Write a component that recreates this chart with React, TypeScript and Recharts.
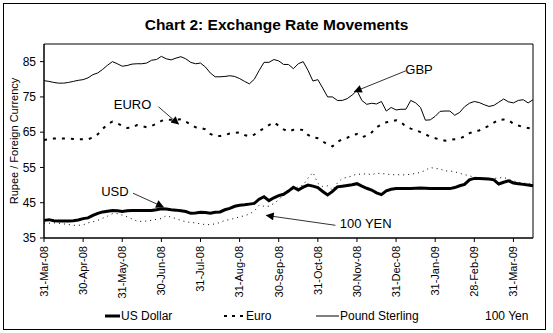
import React from 'react';
import {
  LineChart,
  Line,
  XAxis,
  YAxis,
  Legend,
  ReferenceArea,
  ReferenceLine,
  ReferenceDot,
} from 'recharts';

// month labels, one every 8 points on the x axis
const tickLabels = [
  '31-Mar-08', '30-Apr-08', '31-May-08', '30-Jun-08', '31-Jul-08', '31-Aug-08', '30-Sep-08',
  '31-Oct-08', '30-Nov-08', '31-Dec-08', '31-Jan-09', '28-Feb-09', '31-Mar-09',
];

const usd = [
  40.0, 40.2, 39.9, 39.8, 39.8, 39.8, 39.9, 40.1, 40.5, 40.7,
  41.4, 42.0, 42.4, 42.6, 42.8, 42.7, 42.5, 42.7, 42.8, 42.8,
  42.8, 42.8, 42.8, 43.0, 43.3, 43.2, 43.0, 42.9, 42.7, 42.5,
  42.0, 42.1, 42.3, 42.2, 42.0, 42.3, 42.4, 43.0, 43.4, 44.0,
  44.3, 44.4, 44.6, 44.8, 46.0, 46.7, 45.6, 46.4, 47.0, 47.4,
  48.3, 49.4, 48.6, 49.4, 50.0, 49.7, 49.3, 48.2, 47.2, 48.2,
  49.5, 49.7, 49.9, 50.1, 50.4, 49.7, 49.1, 48.6, 47.8, 47.3,
  48.4, 48.8, 49.0, 49.0, 49.0, 49.0, 49.1, 49.2, 49.1, 49.0,
  49.0, 49.0, 49.0, 49.0, 49.3, 49.8, 50.2, 51.5, 51.9, 51.9,
  51.8, 51.7, 51.5, 50.3, 50.8, 51.2, 50.6, 50.4, 50.2, 50.0,
  49.8,
];

const euro = [
  62.8, 63.0, 63.2, 63.2, 63.2, 63.2, 63.1, 63.0, 63.0, 63.0,
  63.5, 64.4, 65.9, 67.3, 68.0, 67.5, 66.8, 66.2, 66.3, 67.0,
  66.7, 66.4, 66.8, 67.4, 68.2, 68.6, 68.5, 68.5, 68.7, 68.0,
  67.2, 66.4, 66.2, 65.8, 64.5, 63.9, 63.9, 64.2, 64.6, 64.8,
  64.9, 64.2, 63.8, 64.3, 65.3, 66.1, 67.0, 67.8, 66.8, 65.8,
  65.2, 65.7, 65.8, 65.6, 64.2, 63.5, 63.3, 62.4, 61.5, 61.0,
  62.2, 63.0, 63.4, 64.2, 64.5, 63.6, 64.0, 64.9, 66.4, 67.2,
  67.8, 68.0, 68.4, 67.8, 66.6, 66.0, 65.6, 65.0, 64.4, 63.7,
  63.3, 62.9, 62.6, 62.8, 63.0, 63.2, 63.8, 64.7, 65.3, 65.5,
  66.2, 66.8, 67.7, 68.5, 68.6, 68.4, 67.4, 66.9, 66.4, 66.2,
  66.0,
];

const gbp = [
  79.6, 79.4, 79.1, 78.9, 78.9, 79.1, 79.4, 79.7, 79.9, 80.4,
  81.3, 81.8, 82.8, 84.0, 85.0, 84.4, 83.7, 83.9, 84.3, 84.4,
  84.4, 84.6, 85.4, 85.6, 86.5, 85.8, 85.5, 86.0, 86.4, 85.8,
  84.8, 84.4, 84.6, 83.5, 81.8, 80.7, 80.7, 80.8, 81.0, 80.8,
  80.2, 79.4, 78.7, 80.0, 82.5, 84.8, 84.8, 85.6, 85.2, 84.2,
  84.2, 83.0, 84.4, 85.0, 82.5, 79.5, 79.9, 77.5, 75.0, 75.0,
  74.0, 74.0, 74.5, 75.5, 76.8, 74.0, 72.9, 73.2, 73.0, 73.7,
  71.0, 72.0, 71.3, 71.5, 71.5, 74.0, 73.3, 72.0, 68.4, 68.5,
  69.5, 70.9, 71.0, 71.0, 69.8, 70.6, 72.2, 73.2, 73.7, 73.4,
  72.8, 72.3, 72.6, 73.5, 74.4, 73.6, 73.3, 74.0, 74.2, 73.3,
  74.2,
];

const yen = [
  39.2, 39.2, 39.3, 39.2, 39.0, 38.8, 38.6, 38.6, 38.7, 39.3,
  39.6, 40.0, 40.6, 41.2, 41.9, 41.9, 41.5, 41.0, 40.4, 39.8,
  39.7, 39.8, 40.0, 40.3, 40.5, 41.3, 40.9, 40.5, 40.0, 39.6,
  39.4, 39.3, 39.0, 38.8, 38.8, 39.0, 39.4, 40.0, 40.2, 40.6,
  41.0, 41.3, 41.8, 42.6, 44.3, 44.0, 44.0, 44.8, 45.8, 47.4,
  48.0, 48.9, 49.5, 50.0, 52.0, 53.6, 50.5, 49.6, 49.8, 48.6,
  50.6, 51.9, 52.2, 52.6, 53.2, 53.0, 53.3, 52.9, 53.4, 53.2,
  53.2, 52.9, 53.0, 52.9, 52.9, 53.1, 53.3, 53.6, 54.2, 55.0,
  54.7, 54.6, 54.0, 54.0, 53.8, 53.3, 53.0, 52.6, 52.3, 52.0,
  51.8, 51.8, 51.9, 52.0, 52.2, 51.6, 51.2, 50.8, 50.6, 50.4,
  50.2,
];

const yTicks = [35, 45, 55, 65, 75, 85];

// callouts: label position and arrow (from -> to), in data units
const callouts = [
  { text: 'EURO', at: [18.1, 73.0], from: [23.4, 72.2], to: [27.5, 67.3] },
  { text: 'USD', at: [14.5, 48.1], from: [18.2, 47.7], to: [24.4, 43.8] },
  { text: 'GBP', at: [76.7, 82.7], from: [74.0, 82.4], to: [63.5, 76.5] },
  { text: '100 YEN', at: [65.8, 39.1], from: [59.6, 38.6], to: [45.5, 41.4] },
];

const data = usd.map((v, i) => ({ i, usd: v, euro: euro[i], gbp: gbp[i], yen: yen[i] }));
const xTicks = tickLabels.map((_, k) => k * 8);

const FONT = '"Liberation Sans", Arial, sans-serif';

const DateTick = (props: any) => {
  const { x, y, payload } = props;
  return (
    <g transform={`translate(${x},${y + 2})`}>
      <text
        x={0}
        y={0}
        dy="0.35em"
        textAnchor="end"
        transform="rotate(-90)"
        fontSize={11}
        fontFamily={FONT}
        fill="#000"
      >
        {tickLabels[Math.round(payload.value / 8)]}
      </text>
    </g>
  );
};

const legendItems = [
  { name: 'US Dollar', left: 105, width: 15, sw: 3, dash: undefined as string | undefined },
  { name: 'Euro', left: 224, width: 21, sw: 2, dash: '3 5' },
  { name: 'Pound Sterling', left: 316, width: 23, sw: 1, dash: undefined },
  { name: '100 Yen', left: 462, width: 22, sw: 0, dash: undefined },
];

const LegendBox = () => (
  <div style={{ position: 'relative', height: 20, fontFamily: FONT, fontSize: 12, color: '#000' }}>
    {legendItems.map((it) => (
      <div
        key={it.name}
        style={{ position: 'absolute', left: it.left, top: 0, height: 20, display: 'flex', alignItems: 'center' }}
      >
        <svg width={it.width} height={10} style={{ display: 'block' }}>
          {it.sw > 0 && (
            <line x1={0} y1={5} x2={it.width} y2={5} stroke="#000" strokeWidth={it.sw} strokeDasharray={it.dash} />
          )}
        </svg>
        <span style={{ marginLeft: 1, whiteSpace: 'nowrap' }}>{it.name}</span>
      </div>
    ))}
  </div>
);

export default function App() {
  return (
    <div style={{ position: 'absolute', left: 0, top: 0, width: 553, height: 333, background: '#fff' }}>
      <div
        style={{
          position: 'absolute',
          left: 3,
          top: 3,
          width: 543,
          height: 327,
          border: '1px solid #000',
          boxSizing: 'border-box',
        }}
      />
      <div
        style={{
          position: 'absolute',
          left: 0,
          top: 16,
          width: 553,
          textAlign: 'center',
          fontFamily: FONT,
          fontWeight: 'bold',
          fontSize: 15.5,
          lineHeight: '17px',
          color: '#000',
        }}
      >
        Chart 2: Exchange Rate Movements
      </div>
      <div style={{ position: 'absolute', left: 0, top: 0 }}>
        <LineChart width={553} height={333} data={data} margin={{ top: 44, right: 20, bottom: 7, left: 4 }}>
          <defs>
            <marker
              id="arrowHead"
              viewBox="0 0 10 10"
              refX="9"
              refY="5"
              markerWidth="9"
              markerHeight="8"
              markerUnits="userSpaceOnUse"
              orient="auto"
            >
              <path d="M0,0 L10,5 L0,10 z" fill="#000" />
            </marker>
          </defs>
          <XAxis
            dataKey="i"
            type="number"
            domain={[0, 100]}
            ticks={xTicks}
            interval={0}
            height={68}
            tick={<DateTick />}
            tickSize={4}
            tickLine={{ stroke: '#000' }}
            axisLine={{ stroke: '#000' }}
          />
          <YAxis
            type="number"
            domain={[35, 90]}
            ticks={yTicks}
            interval={0}
            width={40}
            tickSize={4}
            tickMargin={4}
            tick={{ fontSize: 12, fill: '#000', fontFamily: FONT }}
            tickLine={{ stroke: '#000' }}
            axisLine={{ stroke: '#000' }}
            label={{
              value: 'Rupee / Foreign Currency',
              angle: -90,
              position: 'insideLeft',
              offset: 10,
              style: { textAnchor: 'middle', fontSize: 11, fill: '#000', fontFamily: FONT },
            }}
          />
          <ReferenceArea x1={0} x2={100} y1={35} y2={90} fill="none" stroke="#000" strokeWidth={1} ifOverflow="visible" />
          <Line dataKey="yen" name="100 Yen" type="linear" stroke="#000" strokeWidth={1} strokeDasharray="1 4" dot={false} isAnimationActive={false} />
          <Line dataKey="gbp" name="Pound Sterling" type="linear" stroke="#000" strokeWidth={1} dot={false} isAnimationActive={false} />
          <Line dataKey="euro" name="Euro" type="linear" stroke="#000" strokeWidth={2} strokeDasharray="3 6" dot={false} isAnimationActive={false} />
          <Line dataKey="usd" name="US Dollar" type="linear" stroke="#000" strokeWidth={3} dot={false} isAnimationActive={false} />
          {callouts.map((c) => (
            <ReferenceLine
              key={`arrow-${c.text}`}
              segment={[{ x: c.from[0], y: c.from[1] }, { x: c.to[0], y: c.to[1] }]}
              stroke="#333"
              strokeWidth={1}
              markerEnd="url(#arrowHead)"
              ifOverflow="visible"
            />
          ))}
          {callouts.map((c) => (
            <ReferenceDot
              key={`label-${c.text}`}
              x={c.at[0]}
              y={c.at[1]}
              r={0}
              fill="none"
              stroke="none"
              ifOverflow="visible"
              label={{ value: c.text, position: 'center', fontSize: 13, fill: '#000', fontFamily: FONT }}
            />
          ))}
          <Legend
            verticalAlign="bottom"
            content={() => <LegendBox />}
            wrapperStyle={{ left: 0, width: 553, bottom: 7, height: 20 }}
          />
        </LineChart>
      </div>
    </div>
  );
}
